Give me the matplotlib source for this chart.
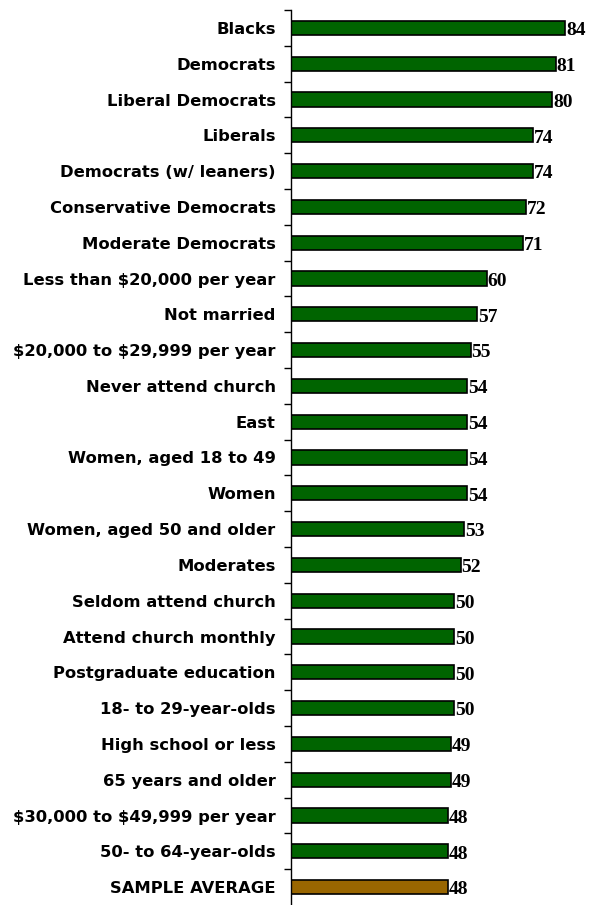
import matplotlib
matplotlib.use("Agg")
from matplotlib import pyplot as plt

groups = ["Blacks", "Democrats", "Liberal Democrats", "Liberals",
          "Democrats (w/ leaners)", "Conservative Democrats", "Moderate Democrats",
          "Less than \\$20,000 per year", "Not married", "\\$20,000 to \\$29,999 per year",
          "Never attend church", "East", "Women, aged 18 to 49", "Women",
          "Women, aged 50 and older", "Moderates", "Seldom attend church",
          "Attend church monthly", "Postgraduate education", "18- to 29-year-olds",
          "High school or less", "65 years and older", "\\$30,000 to \\$49,999 per year",
          "50- to 64-year-olds", "SAMPLE AVERAGE"]
values = [84, 81, 80, 74, 74, 72, 71, 60, 57, 55, 54, 54, 54, 54, 53, 52,
          50, 50, 50, 50, 49, 49, 48, 48, 48]

green = "#006400"
brown = "#996600"
colors = [green] * (len(values) - 1) + [brown]

fig = plt.figure(figsize=(5.92, 9.05), dpi=100)
ax = fig.add_axes([291 / 592, 0, 294 / 592, 895 / 905])

pos = list(range(len(values)))
ax.barh(pos, values, height=0.4, color=colors, edgecolor="black", linewidth=1.2)

for y, v in zip(pos, values):
    ax.text(v + 0.2, y + 0.08, str(v), va="center", ha="left",
            family="Liberation Serif", fontweight="bold", fontsize=14)

ax.set_xlim(0, 90)
ax.set_ylim(len(values) - 0.5, -0.5)

ax.set_yticks(pos)
ax.set_yticklabels(groups, family="DejaVu Sans", fontweight="bold", fontsize=11.8)
ax.set_yticks([p + 0.5 for p in pos[:-1]] + [-0.5], minor=True)
ax.tick_params(axis="y", which="major", length=0, pad=11)
ax.tick_params(axis="y", which="minor", length=5, width=1, direction="out")
ax.set_xticks([])

for s in ["top", "right", "bottom"]:
    ax.spines[s].set_visible(False)
ax.spines["left"].set_linewidth(1)

fig.savefig("out.png", dpi=100)
